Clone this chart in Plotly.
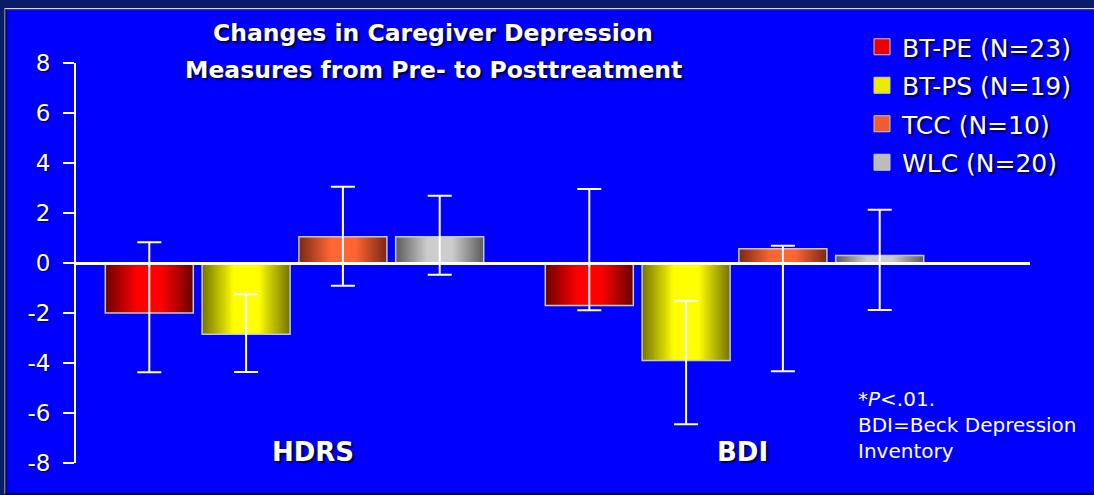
import plotly.graph_objects as go

# data
groups = ["HDRS", "BDI"]
series = ["BT-PE (N=23)", "BT-PS (N=19)", "TCC (N=10)", "WLC (N=20)"]
means = {
    "BT-PE (N=23)": [-2.0, -1.7],
    "BT-PS (N=19)": [-2.85, -3.9],
    "TCC (N=10)": [1.05, 0.57],
    "WLC (N=20)": [1.05, 0.3],
}
err_top = {
    "BT-PE (N=23)": [0.83, 2.96],
    "BT-PS (N=19)": [-1.25, -1.51],
    "TCC (N=10)": [3.05, 0.69],
    "WLC (N=20)": [2.69, 2.13],
}
err_bottom = {
    "BT-PE (N=23)": [-4.37, -1.89],
    "BT-PS (N=19)": [-4.36, -6.45],
    "TCC (N=10)": [-0.91, -4.33],
    "WLC (N=20)": [-0.47, -1.88],
}
y_ticks = [-8, -6, -4, -2, 0, 2, 4, 6, 8]
y_ticktext = ["-8", "-6", "-4", "-2", "0", "2", "4", "6", "8"]

# (edge colour, centre colour) for the horizontal bar gradient
shades = {
    "BT-PE (N=23)": ((110, 0, 0), (255, 0, 0)),
    "BT-PS (N=19)": ((120, 120, 0), (255, 255, 0)),
    "TCC (N=10)": ((125, 42, 22), (255, 102, 51)),
    "WLC (N=20)": ((95, 95, 95), (205, 205, 205)),
}

FONT = "DejaVu Sans"
BLUE = "#0000ff"
NAVY = "#0b1b6b"
SHADOW = "2px 2px 2px #000033"

# plot area in pixels: x 76..1030, y 63..463
L, R, T, B = 76, 64, 63, 32
W, H = 1094, 495
PW, PH = W - L - R, H - T - B


def px_x(p):
    return (p - L) / PW


def px_y(p):
    return (H - B - p) / PH


def mix(c1, c2, s):
    return "rgb(%d,%d,%d)" % tuple(round(a + (b - a) * s) for a, b in zip(c1, c2))


slot = 0.22
bw = 0.2
n_layers = 24
gx = list(range(len(groups)))

fig = go.Figure()

for i, name in enumerate(series):
    off = (i - 1.5) * slot
    dark, bright = shades[name]
    xs = [g + off for g in gx]
    # gradient fill: stacked bars, each narrower and brighter than the last
    for k in range(n_layers):
        t = 1 - k / n_layers
        s = min(max((t - 0.3) / 0.7, 0), 1)
        fig.add_trace(go.Bar(
            x=xs, y=means[name], width=bw * t,
            marker=dict(color=mix(bright, dark, s), line=dict(width=0)),
            showlegend=False, hoverinfo="skip",
        ))
    # outline + error bars
    plus = [t - m for t, m in zip(err_top[name], means[name])]
    minus = [m - b for b, m in zip(err_bottom[name], means[name])]
    fig.add_trace(go.Bar(
        x=xs, y=means[name], width=bw, name=name,
        marker=dict(color="rgba(0,0,0,0)", line=dict(color="#c8c8c8", width=1.5)),
        error_y=dict(type="data", symmetric=False, array=plus, arrayminus=minus,
                     color="white", thickness=2, width=12),
        showlegend=False,
    ))
    # legend entry
    fig.add_trace(go.Scatter(
        x=[None], y=[None], mode="markers", name=name, legendgroup=name,
        marker=dict(symbol="square", size=16, color=mix(bright, dark, 0.15),
                    line=dict(color="#c8c8c8", width=1)),
    ))

# group labels
for g, lab, shift in zip(gx, groups, [18, 8]):
    fig.add_annotation(x=g, y=-7.56, text=lab, showarrow=False, xshift=shift,
                       font=dict(family=FONT, size=26, color="white", weight="bold",
                                 shadow=SHADOW))

# title lines
for txt, py in [("Changes in Caregiver Depression", 33),
                ("Measures from Pre- to Posttreatment", 70)]:
    fig.add_annotation(xref="paper", yref="paper", x=px_x(433), y=px_y(py), text=txt,
                       showarrow=False, xanchor="center", yanchor="middle",
                       font=dict(family=FONT, size=23.5, color="white", weight="bold",
                                 shadow=SHADOW))

fig.add_annotation(xref="paper", yref="paper", x=px_x(856), y=px_y(425),
                   text="*<i>P</i>&lt;.01.<br>BDI=Beck Depression<br>Inventory",
                   showarrow=False, xanchor="left", yanchor="middle", align="left",
                   font=dict(family=FONT, size=20, color="white"))

# frame
fig.add_shape(type="rect", xref="paper", yref="paper", layer="below",
              x0=px_x(7), x1=px_x(W), y0=px_y(493), y1=px_y(10),
              fillcolor=BLUE, line=dict(width=0))
for x0, y0, x1, y1, col in [(5, 8.5, W, 8.5, "#d8d4c0"), (5, 9.5, W, 9.5, "#404070"),
                            (5, 8, 5, 494, "#d8d4c0"), (6, 9, 6, 494, "#000000"),
                            (5, 494, W, 494, "#000000")]:
    fig.add_shape(type="line", xref="paper", yref="paper",
                  x0=px_x(x0), x1=px_x(x1), y0=px_y(y0), y1=px_y(y1),
                  line=dict(color=col, width=1))

fig.update_layout(
    template="none",
    width=W, height=H,
    margin=dict(l=L, r=R, t=T, b=B),
    paper_bgcolor=NAVY,
    plot_bgcolor=BLUE,
    barmode="overlay",
    showlegend=True,
    legend=dict(x=px_x(862), y=px_y(24), xanchor="left", yanchor="top",
                bgcolor="rgba(0,0,0,0)", borderwidth=0, tracegroupgap=3,
                font=dict(family=FONT, size=25, color="white", shadow=SHADOW)),
    xaxis=dict(range=[(L - 294.5) / 440, (W - R - 294.5) / 440], showgrid=False,
               zeroline=False, showticklabels=False, ticks="",
               showline=True, linecolor="white", linewidth=3,
               anchor="free", position=0.5, layer="above traces"),
    yaxis=dict(range=[-8, 8], tickvals=y_ticks, ticktext=y_ticktext,
               showgrid=False, zeroline=False,
               showline=True, linecolor="white", linewidth=2,
               ticks="outside", ticklen=11, tickwidth=2, tickcolor="white",
               ticklabelstandoff=8,
               tickfont=dict(family=FONT, size=23, color="white", shadow="1px 1px 1px #000033")),
)

fig.write_html("out.html", config={"displayModeBar": False},
               post_script="document.body.style.margin='0';")
